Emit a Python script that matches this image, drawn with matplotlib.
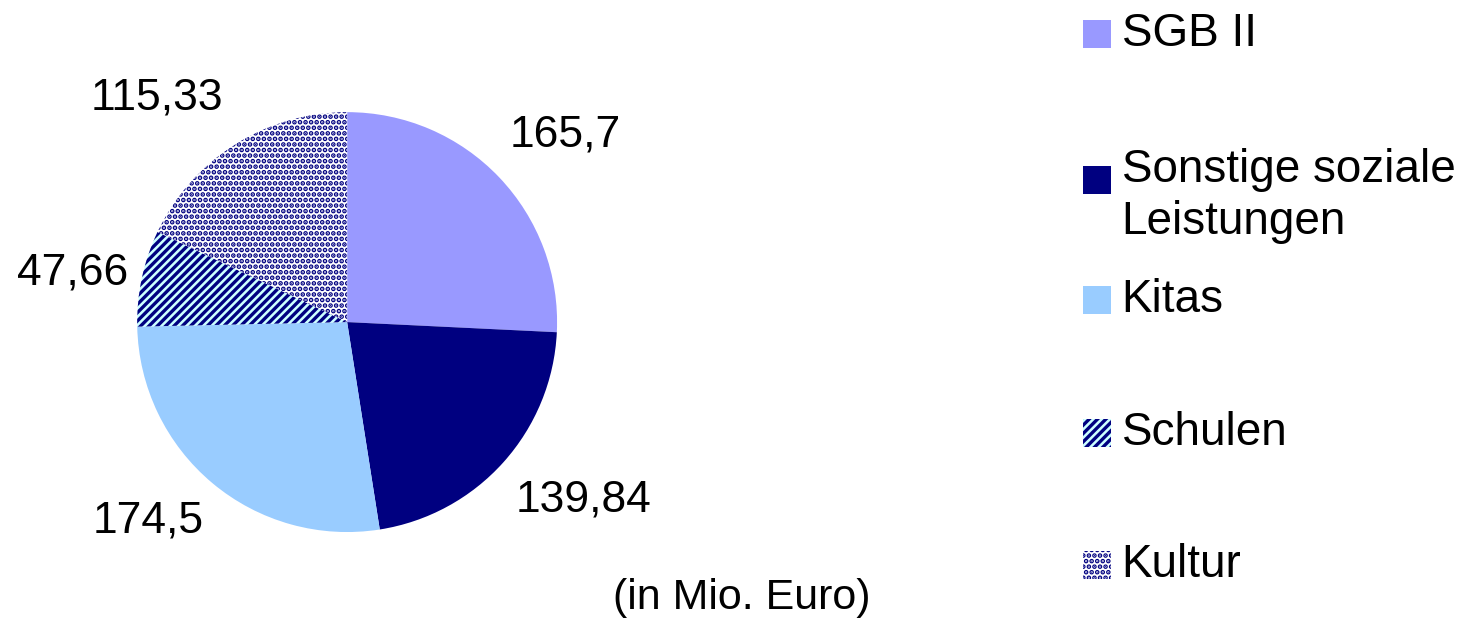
import numpy as np
import matplotlib.pyplot as plt
from matplotlib.patches import Rectangle

plt.rcParams['font.family'] = ['Liberation Sans', 'DejaVu Sans']
plt.rcParams['hatch.linewidth'] = 2.4

categories = ['SGB II', 'Sonstige soziale\nLeistungen', 'Kitas', 'Schulen', 'Kultur']
values = [165.7, 139.84, 174.5, 47.66, 115.33]
value_labels = ['165,7', '139,84', '174,5', '47,66', '115,33']
face_colors = ['#9999FF', '#000080', '#99CCFF', '#CCFFFF', '#FFFFFF']
hatches = [None, None, None, '////', '...']
hatch_color = '#000080'

# label placement tweaks (angle offset in degrees, distance in radii)
label_shift = [-3, 5, -5, 2, 8]
label_dist = [1.37, 1.41, 1.34, 1.33, 1.40]

fig = plt.figure(figsize=(14.74, 6.23), dpi=100)
ax = fig.add_axes([0.093, 0.146, 0.285, 0.674])

wedges, _ = ax.pie(values, colors=face_colors, startangle=90, counterclock=False,
                   wedgeprops=dict(linewidth=0))
for w, h in zip(wedges, hatches):
    if h:
        w.set_hatch(h)
        w.set_edgecolor(hatch_color)
for w, lab, da, d in zip(wedges, value_labels, label_shift, label_dist):
    ang = np.deg2rad((w.theta1 + w.theta2) / 2 + da)
    ax.text(d * np.cos(ang), d * np.sin(ang), lab, fontsize=32,
            ha='center', va='center', clip_on=False)
ax.set_xlim(-1, 1)
ax.set_ylim(-1, 1)
ax.set_aspect('equal')

# legend drawn by hand to follow the reference spacing
leg_y = [0.945, 0.710, 0.518, 0.305, 0.093]
for cat, fc, h, y in zip(categories, face_colors, hatches, leg_y):
    ec = hatch_color if h else fc
    r = Rectangle((0.7345, y - 0.022), 0.019, 0.045, transform=fig.transFigure,
                  facecolor=fc, edgecolor=ec, hatch=h, linewidth=0)
    fig.patches.append(r)
    va = 'center'
    ty = y
    if '\n' in cat:
        va = 'top'
        ty = y + 0.052
    fig.text(0.761, ty, cat, fontsize=33, va=va, ha='left', linespacing=1.22)

fig.text(0.503, 0.04, '(in Mio. Euro)', fontsize=31, ha='center', va='center')

fig.savefig('out.png', dpi=100)
